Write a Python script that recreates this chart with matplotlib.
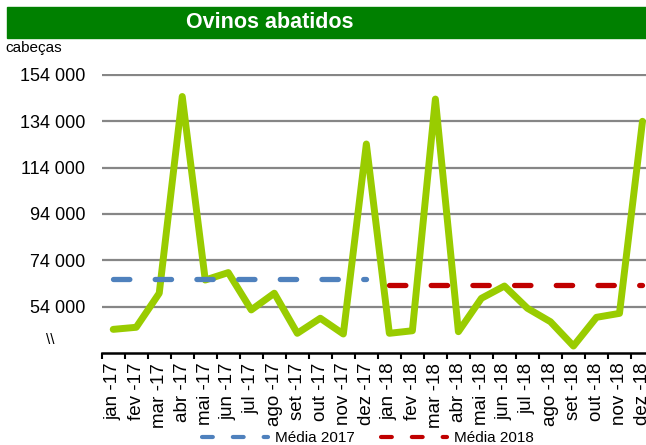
import matplotlib
matplotlib.use('Agg')
import matplotlib.pyplot as plt
from matplotlib.lines import Line2D
from matplotlib.patches import Rectangle
from matplotlib.ticker import FuncFormatter, FixedLocator

plt.rcParams['font.family'] = ['Liberation Sans', 'DejaVu Sans']

# ---------------- data ----------------
months = ['jan', 'fev', 'mar', 'abr', 'mai', 'jun', 'jul', 'ago', 'set', 'out', 'nov', 'dez']
categories = [f'{m} -17' for m in months] + [f'{m} -18' for m in months]
ovinos = [44200, 45100, 59800, 144700, 65500, 68700, 52600, 59800, 42500, 49000, 42200, 124200,
          42500, 43600, 143600, 43200, 57600, 62900, 53300, 47500, 37000, 49400, 51100, 134000]
media_2017 = 66100
media_2018 = 63500
y_ticks = [54000, 74000, 94000, 114000, 134000, 154000]
y_min, y_max = 34000, 154500
title = 'Ovinos abatidos'
unit = 'cabeças'
legend_labels = ['Média 2017', 'Média 2018']

# ---------------- style ----------------
W, H = 646, 445
GREEN = '#99CC00'
BLUE = '#4F81BD'
RED = '#C00000'
GRID = '#868686'

fig = plt.figure(figsize=(W / 100, H / 100), dpi=100)


def rect(x0, y0, x1, y1):
    return [x0 / W, 1 - y1 / H, (x1 - x0) / W, (y1 - y0) / H]


ax = fig.add_axes(rect(101.7, 73.8, 654, 353))

x = list(range(len(categories)))
x17 = x[:12]
x18 = x[12:]

ax.plot(x, ovinos, color=GREEN, lw=5, solid_joinstyle='round', solid_capstyle='round', zorder=3)
ax.plot(x17, [media_2017] * len(x17), color=BLUE, lw=3.8, dashes=(3.1, 4.8),
        dash_capstyle='round', zorder=4)
ax.plot(x18, [media_2018] * len(x18), color=RED, lw=3.8, dashes=(3.1, 4.8),
        dash_capstyle='round', zorder=4)

ax.set_xlim(-0.5, len(categories) - 0.5)
ax.set_ylim(y_min, y_max)

# y axis
ax.yaxis.set_major_locator(FixedLocator(y_ticks))
ax.yaxis.set_major_formatter(FuncFormatter(lambda v, p: f'{int(v):,}'.replace(',', ' ')))
ax.tick_params(axis='y', length=0, pad=12, labelsize=13)
ax.yaxis.grid(True, color=GRID, lw=1.6)
ax.set_axisbelow(True)

# x axis
ax.set_xticks(x)
ax.set_xticklabels(categories, rotation=90, fontsize=13.5)
ax.tick_params(axis='x', which='major', length=0, pad=7)
ax.set_xticks([i - 0.5 for i in range(len(categories) + 1)], minor=True)
ax.tick_params(axis='x', which='minor', length=4, width=1.5, direction='out', color='black')

for s in ['top', 'right', 'left']:
    ax.spines[s].set_visible(False)
ax.spines['bottom'].set_color('black')
ax.spines['bottom'].set_linewidth(1.8)

# title bar
fig.patches.append(Rectangle((7 / W, 1 - 38 / H), 1 - 7 / W, 31 / H,
                             transform=fig.transFigure, color='#008000', zorder=0))
fig.text(270 / W, 1 - 22.5 / H, title, ha='center', va='center', color='white',
         fontweight='bold', fontsize=15.5)

fig.text(5 / W, 1 - 48 / H, unit, ha='left', va='center', fontsize=11)
fig.text(50 / W, 1 - 340 / H, '\\\\', ha='center', va='center', fontsize=11)

# legend
handles = [
    Line2D([], [], color=BLUE, lw=3, dashes=(2.6, 4.8), dash_capstyle='round'),
    Line2D([], [], color=RED, lw=3, dashes=(2.6, 4.8), dash_capstyle='round'),
]
fig.legend(handles, legend_labels, loc='center', bbox_to_anchor=(368 / W, 1 - 438 / H),
           ncol=2, frameon=False, fontsize=11, handlelength=4.3, handletextpad=0.5,
           columnspacing=1.7, borderpad=0, borderaxespad=0)

fig.savefig('out.png', dpi=100)
